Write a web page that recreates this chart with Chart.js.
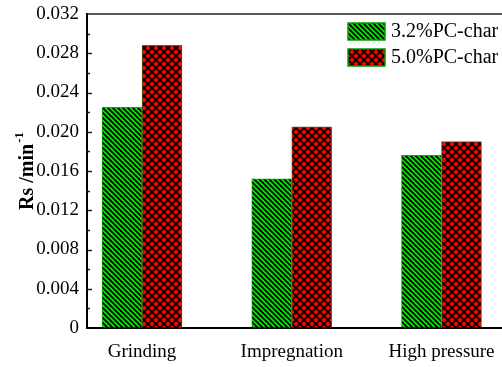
<!DOCTYPE html>
<html>
<head>
<meta charset="utf-8">
<script src="https://cdn.jsdelivr.net/npm/chart.js@4/dist/chart.umd.min.js"></script>
<style>
  html, body { margin: 0; padding: 0; background: #fff; overflow: hidden; }
  #wrap { width: 502px; height: 367px; }
</style>
</head>
<body>
<div id="wrap"><canvas id="c" width="502" height="367"></canvas></div>
<script>
// Treatment methods along the x axis and where each group sits
const categories = ['Grinding', 'Impregnation', 'High pressure'];
const categoryPositions = [1, 2, 3];

// Legend names of the two series
const seriesNames = ['3.2%PC-char', '5.0%PC-char'];

// Rate constants Rs (min^-1)
const rates32 = [0.0225, 0.0152, 0.0176];
const rates50 = [0.0288, 0.0205, 0.0190];

// Y axis tick values
const yTicks = [0, 0.004, 0.008, 0.012, 0.016, 0.020, 0.024, 0.028, 0.032];

// Y axis title, split into the base text and its superscript
const yTitle = 'Rs /min';
const yTitleSup = '-1';

const FONT = '"Liberation Serif", "Times New Roman", serif';
const canvas = document.getElementById('c');
const mainCtx = canvas.getContext('2d');

// Green fill with black "\" stripes
function stripePattern() {
  const s = 5;
  const t = document.createElement('canvas');
  t.width = s; t.height = s;
  const g = t.getContext('2d');
  g.fillStyle = '#00ee00';
  g.fillRect(0, 0, s, s);
  g.strokeStyle = '#000';
  g.lineWidth = 1.8;
  for (const o of [-s, 0, s]) {
    g.beginPath();
    g.moveTo(o - 1, -1);
    g.lineTo(o + s + 1, s + 1);
    g.stroke();
  }
  return mainCtx.createPattern(t, 'repeat');
}

// Red fill with a black diagonal cross-hatch
function crossPattern() {
  const s = 8;
  const t = document.createElement('canvas');
  t.width = s; t.height = s;
  const g = t.getContext('2d');
  g.fillStyle = '#ff0000';
  g.fillRect(0, 0, s, s);
  g.strokeStyle = '#000';
  g.lineWidth = 1.8;
  for (const o of [-s, 0, s]) {
    g.beginPath();
    g.moveTo(o - 1, -1);
    g.lineTo(o + s + 1, s + 1);
    g.stroke();
    g.beginPath();
    g.moveTo(o + s + 1, -1);
    g.lineTo(o - 1, s + 1);
    g.stroke();
  }
  return mainCtx.createPattern(t, 'repeat');
}

const greenFill = stripePattern();
const redFill = crossPattern();

// Inward major and minor ticks on the y axis, plus the top frame line
const framePlugin = {
  id: 'frame',
  afterDraw(chart) {
    const { ctx, chartArea: a, scales: { y } } = chart;
    ctx.save();
    ctx.strokeStyle = '#222';
    ctx.lineWidth = 1.5;
    for (let i = 0; i < yTicks.length; i++) {
      const py = Math.round(y.getPixelForValue(yTicks[i])) + 0.5;
      if (i > 0 && i < yTicks.length - 1) {
        ctx.beginPath(); ctx.moveTo(a.left, py); ctx.lineTo(a.left + 5, py); ctx.stroke();
      }
      if (i < yTicks.length - 1) {
        const pm = Math.round(y.getPixelForValue((yTicks[i] + yTicks[i + 1]) / 2)) + 0.5;
        ctx.beginPath(); ctx.moveTo(a.left, pm); ctx.lineTo(a.left + 3, pm); ctx.stroke();
      }
    }
    ctx.strokeStyle = '#222';
    ctx.lineWidth = 1.6;
    ctx.beginPath();
    ctx.moveTo(a.left, a.top);
    ctx.lineTo(a.right, a.top);
    ctx.stroke();
    ctx.restore();
  }
};

// Rotated y-axis title with a superscript exponent
const yTitlePlugin = {
  id: 'yTitle',
  afterDraw(chart) {
    const { ctx, chartArea: a } = chart;
    ctx.save();
    const mainFont = 'bold 20px ' + FONT;
    const supFont = 'bold 13px ' + FONT;
    ctx.font = mainFont;
    const wMain = ctx.measureText(yTitle).width;
    ctx.font = supFont;
    const wSup = ctx.measureText(yTitleSup).width;
    const total = wMain + wSup + 1;
    ctx.translate(33, (a.top + a.bottom) / 2);
    ctx.rotate(-Math.PI / 2);
    ctx.fillStyle = '#000';
    ctx.textBaseline = 'alphabetic';
    ctx.textAlign = 'left';
    ctx.font = mainFont;
    ctx.fillText(yTitle, -total / 2, 0);
    ctx.font = supFont;
    ctx.fillText(yTitleSup, -total / 2 + wMain + 1, -10);
    ctx.restore();
  }
};

// Legend in the upper right corner of the plot
const legendPlugin = {
  id: 'cornerLegend',
  afterDraw(chart) {
    const { ctx } = chart;
    ctx.save();
    chart.data.datasets.forEach((ds, i) => {
      const top = 23 + i * 26;
      ctx.fillStyle = ds.backgroundColor;
      ctx.fillRect(348, top, 37, 17);
      ctx.strokeStyle = '#009a00';
      ctx.lineWidth = 1.5;
      ctx.strokeRect(348, top, 37, 17);
      ctx.fillStyle = '#000';
      ctx.font = '20px ' + FONT;
      ctx.textBaseline = 'middle';
      ctx.textAlign = 'left';
      ctx.fillText(ds.label, 391, top + 9);
    });
    ctx.restore();
  }
};

new Chart(canvas, {
  type: 'bar',
  data: {
    datasets: [
      {
        label: seriesNames[0],
        data: categoryPositions.map((x, i) => ({ x, y: rates32[i] })),
        backgroundColor: greenFill,
        borderColor: '#1aa01a',
        borderWidth: 1
      },
      {
        label: seriesNames[1],
        data: categoryPositions.map((x, i) => ({ x, y: rates50[i] })),
        backgroundColor: redFill,
        borderColor: '#5a6a1a',
        borderWidth: 1
      }
    ]
  },
  options: {
    responsive: false,
    animation: false,
    devicePixelRatio: 1,
    barThickness: 40,
    layout: { padding: { top: 14, right: 0, left: 0, bottom: 0 } },
    plugins: { legend: { display: false }, tooltip: { enabled: false } },
    scales: {
      x: {
        type: 'linear',
        offset: false,
        min: 0.6327,
        max: 3.404,
        afterBuildTicks: s => { s.ticks = categoryPositions.map(v => ({ value: v })); },
        afterFit: s => { s.height = 39; s.paddingLeft = 0; s.paddingRight = 0; },
        grid: { display: true, offset: false, drawOnChartArea: false, drawTicks: false },
        border: { display: true, color: '#000', width: 2 },
        ticks: {
          autoSkip: false,
          maxRotation: 0,
          padding: 13,
          color: '#000',
          font: { family: FONT, size: 19 },
          callback: v => categories[categoryPositions.indexOf(v)] ?? ''
        }
      },
      y: {
        min: 0,
        max: 0.032,
        afterBuildTicks: s => { s.ticks = yTicks.map(v => ({ value: v })); },
        afterFit: s => { s.width = 87; s.paddingTop = 0; s.paddingBottom = 0; },
        grid: { display: true, drawOnChartArea: false, drawTicks: false },
        border: { display: true, color: '#000', width: 2 },
        ticks: {
          padding: 8,
          color: '#000',
          font: { family: FONT, size: 19 },
          callback: v => (v === 0 ? '0' : v.toFixed(3))
        }
      }
    }
  },
  plugins: [framePlugin, yTitlePlugin, legendPlugin]
});
</script>
</body>
</html>
